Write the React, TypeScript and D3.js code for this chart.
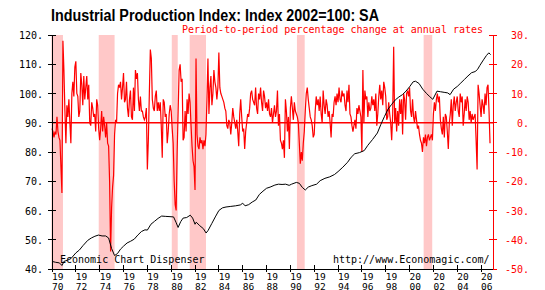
import React from "react";
import * as d3 from "d3";

// ---- Data ----
const startYear = 1970;
const endYear = 2007;
const xTickYears = [1970, 1972, 1974, 1976, 1978, 1980, 1982, 1984, 1986, 1988, 1990, 1992, 1994, 1996, 1998, 2000, 2002, 2004, 2006];
const leftTicks = [40, 50, 60, 70, 80, 90, 100, 110, 120];
const rightTicks = [-50, -40, -30, -20, -10, 0, 10, 20, 30];

// NBER recessions (start, end as fractional years)
const recessionStarts = [1969.95, 1973.92, 1980.05, 1981.55, 1990.55, 2001.18];
const recessionEnds = [1970.92, 1975.25, 1980.55, 1982.92, 1991.2, 2001.9];

// Industrial production index (2002=100), sampled dates and values
const ipDates = [
  1970.0, 1970.3, 1970.6, 1970.85, 1971.0, 1971.3, 1971.6, 1972.0, 1972.3, 1972.6, 1973.0, 1973.3, 1973.6, 1973.9,
  1974.2, 1974.5, 1974.75, 1975.0, 1975.25, 1975.5, 1975.75, 1976.0, 1976.3, 1976.6, 1976.9, 1977.2, 1977.5, 1977.8,
  1978.0, 1978.3, 1978.6, 1978.9, 1979.2, 1979.5, 1979.9, 1980.2, 1980.4, 1980.58, 1980.8, 1981.0, 1981.3, 1981.6,
  1981.8, 1982.0, 1982.1, 1982.4, 1982.7, 1982.93, 1983.1, 1983.4, 1983.7, 1984.0, 1984.3, 1984.6, 1985.0, 1985.4,
  1985.8, 1986.0, 1986.2, 1986.5, 1986.8, 1987.1, 1987.4, 1987.7, 1988.0, 1988.3, 1988.7, 1989.0, 1989.3, 1989.6,
  1989.9, 1990.1, 1990.5, 1990.75, 1991.0, 1991.25, 1991.5, 1991.8, 1992.2, 1992.5, 1992.9, 1993.3, 1993.7, 1994.0,
  1994.4, 1994.8, 1995.1, 1995.4, 1995.8, 1996.2, 1996.5, 1996.9, 1997.3, 1997.6, 1997.9, 1998.2, 1998.5, 1998.8,
  1999.1, 1999.4, 1999.7, 2000.0, 2000.3, 2000.5, 2000.8, 2001.1, 2001.4, 2001.7, 2001.95, 2002.3, 2002.6, 2002.9,
  2003.2, 2003.4, 2003.7, 2004.0, 2004.3, 2004.6, 2004.9, 2005.2, 2005.5, 2005.7, 2005.9, 2006.2, 2006.45, 2006.65,
  2006.8,
];
const ipValues = [
  42.6, 42.3, 42.1, 41.2, 42.6, 43.0, 43.6, 45.5, 46.5, 48.0, 49.8, 50.6, 51.2, 51.6,
  51.3, 51.3, 50.6, 47.0, 44.6, 45.3, 46.8, 47.8, 48.9, 49.5, 50.2, 51.6, 52.8, 53.4,
  53.3, 55.3, 56.3, 57.3, 58.1, 58.0, 57.9, 57.8, 56.0, 54.2, 56.2, 57.4, 57.6, 58.4,
  57.4, 55.3, 56.0, 54.8, 53.8, 52.3, 53.2, 55.5, 57.8, 60.0, 60.9, 61.2, 61.4, 61.6,
  61.9, 62.5, 61.6, 62.0, 62.9, 63.6, 65.5, 66.6, 67.6, 68.0, 68.7, 69.0, 68.9, 69.0,
  68.6, 69.0, 69.6, 69.3, 67.9, 67.0, 68.0, 68.5, 69.0, 70.2, 71.0, 71.5, 72.3, 73.3,
  74.8, 76.5, 78.2, 79.4, 79.8, 80.5, 82.3, 84.3, 86.5, 89.5, 92.2, 94.7, 96.3, 97.8,
  98.8, 99.6, 100.8, 102.3, 104.0, 104.2, 103.4, 101.5, 100.1, 98.9, 98.0, 100.8, 100.6, 100.4,
  100.2, 99.6, 101.5, 102.4, 103.6, 104.8, 106.0, 107.1, 107.5, 108.2, 109.6, 111.5, 113.0, 113.9,
  113.3,
];

// Period-to-period % change at annual rates, monthly from Jan 1970
const pctChange = [
  -2, -3, -5, -3, -4, 2, -3, -5, -6, -15, -24, 28, // 1970
  18, 4, -7, 6, 2, 8, 0, -7, 10, 14, 9, 19, // 1971
  21, 10, 9, 2, 4, 17, 13, 6, 16, 8, 12, 16, // 1972
  8, 13, 0, -1, 7, 5, 2, 3, -3, 8, 6, -2, // 1973
  -6, -2, 4, -3, 2, -1, -5, 0, -7, -8, -20, -44, // 1974
  -29, -22, -18, -4, 1, 0, 10, 13, 12, 14, 8, 12, // 1975
  17, 7, 8, 14, 5, 2, 8, 11, 2, 1, 12, 4, // 1976
  18, 15, 17, 8, 4, 9, 4, 4, 2, 1, 2, 5, // 1977
  -16, -6, 10, 25, 22, 8, 5, 4, 9, 11, 4, 7, // 1978
  4, 7, -1, -12, 8, 7, 2, 3, -7, -3, 3, 6, // 1979
  4, -2, -7, -20, -28, -30, -10, 4, 18, 20, 14, 15, // 1980
  -6, -5, 4, -3, 8, 3, 10, 7, -1, -8, -13, -15, // 1981
  -23, 22, -4, -8, -9, -5, -7, -6, -9, -6, -8, -4, // 1982
  8, 22, 3, 12, 16, 6, 10, 18, 14, 12, 8, 12, // 1983
  24, 12, 10, 9, 8, 7, 5, 4, -1, -2, 1, 0, // 1984
  -4, 0, 5, 2, 0, -2, 1, -3, -8, 3, 8, 2, // 1985
  -3, -2, -9, -3, 0, 3, 2, 5, 10, 11, 8, 7, // 1986
  6, 12, 5, 3, 10, 8, 12, 7, 4, 11, 9, 5, // 1987
  7, 4, 8, 3, 2, 5, 0, 3, 6, 2, 4, 11, // 1988
  -1, 3, -6, -7, -9, -6, -12, 8, 4, -3, 2, -9, // 1989
  5, 9, 5, 1, 7, 4, 3, 2, 0, -7, -14, -10, // 1990
  -13, -7, -3, 4, 10, 12, 8, 5, 2, 1, -1, -5, // 1991
  -4, 4, 9, 6, 8, 4, 9, 3, 0, 11, 6, 3, // 1992
  8, 6, 2, 4, 0, -5, 3, 2, 7, 9, 6, 10, // 1993
  7, 12, 8, 7, 11, 9, 10, 6, 4, 11, 7, 13, // 1994
  3, 2, -1, -3, -1, 1, -2, 5, 3, 6, 4, 2, // 1995
  -10, 18, 0, 11, 8, 9, 2, 7, 4, 5, 9, 6, // 1996
  8, 4, 10, -1, 3, 9, 13, 8, 11, 6, 14, 12, // 1997
  9, 1, 2, 7, 3, 0, -6, 3, 26, 0, 5, -3, // 1998
  4, -1, 8, 3, 8, -4, 10, 8, 1, 10, 11, 9, // 1999
  12, 4, 2, 8, 2, 0, 4, 1, -2, -1, -4, -6, // 2000
  -7, -10, -5, -7, -4, -8, -5, -4, -6, -5, -4, -6, // 2001
  3, 7, 4, 8, 10, 7, 9, 1, -2, -4, 2, -5, // 2002
  3, 2, -3, -9, 0, 3, 8, -1, 6, 9, 4, 7, // 2003
  9, 4, 2, 10, 7, 9, -1, 3, 8, 4, 9, 7, // 2004
  1, 4, 0, 3, 1, 2, 3, -6, -16, 13, 10, 6, // 2005
  2, 8, 6, 3, 10, 6, 12, 13, 4, -7, // 2006
];

const title = "Industrial Production Index: Index 2002=100: SA";
const subtitle = "Period-to-period percentage change at annual rates";
const leftNote = "Economic Chart Dispenser";
const rightNote = "http://www.Economagic.com/";

// ---- Layout ----
const W = 545;
const H = 290;
const L = 52;
const R = 493;
const T = 35;
const B = 269;
const MONO = "'DejaVu Sans Mono', monospace";

export default function App() {
  const x = d3.scaleLinear().domain([startYear, endYear]).range([L, R]);
  const yL = d3.scaleLinear().domain([40, 120]).range([B, T]);
  const yR = d3.scaleLinear().domain([-50, 30]).range([B, T]);

  const ipLine = d3
    .line<number>()
    .x((_, i) => x(ipDates[i]))
    .y((d) => yL(d))(ipValues) as string;

  const pctLine = d3
    .line<number>()
    .x((_, i) => x(startYear + i / 12))
    .y((d) => yR(d))(pctChange) as string;

  return (
    <svg
      width={W}
      height={H}
      style={{ position: "absolute", left: 0, top: 0, background: "#fff" }}
    >
      <rect x={0} y={0} width={W} height={H} fill="#fff" />
      {recessionStarts.map((s, i) => (
        <rect
          key={i}
          x={x(s)}
          y={T}
          width={x(recessionEnds[i]) - x(s)}
          height={B - T}
          fill="#ffc8c8"
        />
      ))}
      {/* zero line */}
      <line x1={L} x2={R} y1={yR(0)} y2={yR(0)} stroke="#ff0000" strokeWidth={1.5} />
      <path d={pctLine} fill="none" stroke="#ff0000" strokeWidth={1.2} />
      <path d={ipLine} fill="none" stroke="#000" strokeWidth={1} />

      {/* left axis */}
      <line x1={L} x2={L} y1={T} y2={B} stroke="#000" strokeWidth={1} shapeRendering="crispEdges" />
      {leftTicks.map((v) => (
        <g key={v}>
          <line x1={L - 4} x2={L + 4} y1={yL(v)} y2={yL(v)} stroke="#000" shapeRendering="crispEdges" />
          <text
            x={43}
            y={yL(v) + 1}
            textAnchor="end"
            dominantBaseline="middle"
            fontFamily={MONO}
            fontSize={10}
            fill="#000"
          >
            {v + "."}
          </text>
        </g>
      ))}

      {/* right axis */}
      <line x1={R} x2={R} y1={T} y2={B} stroke="#ff0000" strokeWidth={1} shapeRendering="crispEdges" />
      {rightTicks.map((v) => (
        <g key={v}>
          <line x1={R - 4} x2={R + 4} y1={yR(v)} y2={yR(v)} stroke="#ff0000" shapeRendering="crispEdges" />
          <text
            x={529}
            y={yR(v) + 1}
            textAnchor="end"
            dominantBaseline="middle"
            fontFamily={MONO}
            fontSize={10}
            fill="#ff0000"
          >
            {v + "."}
          </text>
        </g>
      ))}

      {/* bottom axis */}
      <line x1={L} x2={R} y1={B} y2={B} stroke="#000" strokeWidth={1} shapeRendering="crispEdges" />
      {xTickYears.map((yr) => (
        <g key={yr}>
          <line x1={x(yr)} x2={x(yr)} y1={B - 4} y2={B + 3} stroke="#000" shapeRendering="crispEdges" />
          <text
            x={x(yr)}
            y={279.5}
            fontFamily={MONO}
            fontSize={8.5}
            textLength={11.5}
            lengthAdjust="spacingAndGlyphs"
            fill="#000"
          >
            {String(yr).slice(0, 2)}
          </text>
          <text
            x={x(yr)}
            y={289.5}
            fontFamily={MONO}
            fontSize={8.5}
            textLength={11.5}
            lengthAdjust="spacingAndGlyphs"
            fill="#000"
          >
            {String(yr).slice(2)}
          </text>
        </g>
      ))}

      <text
        x={51}
        y={21}
        fontFamily="'Liberation Sans', Arial, sans-serif"
        fontWeight="bold"
        fontSize={16}
        textLength={328}
        lengthAdjust="spacingAndGlyphs"
        fill="#000"
      >
        {title}
      </text>
      <text x={182} y={33} fontFamily={MONO} fontSize={10} fill="#ff0000">
        {subtitle}
      </text>
      <text x={60} y={263} fontFamily={MONO} fontSize={10} fill="#000">
        {leftNote}
      </text>
      <text x={333} y={263} fontFamily={MONO} fontSize={10} fill="#000">
        {rightNote}
      </text>
    </svg>
  );
}
